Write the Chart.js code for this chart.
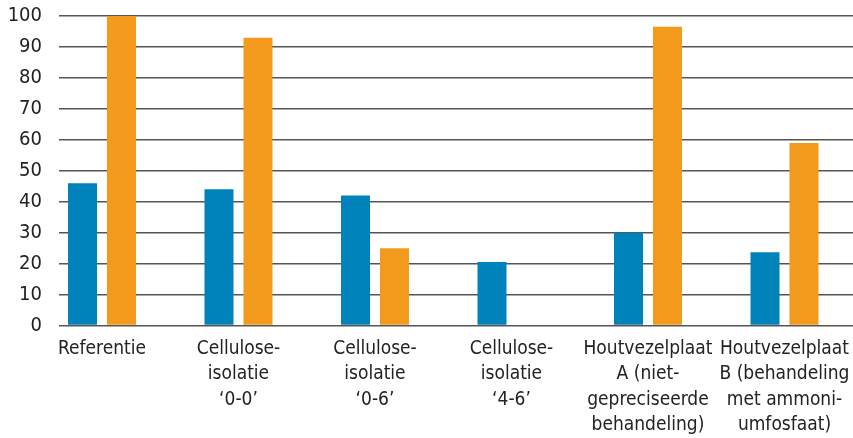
<!DOCTYPE html>
<html>
<head>
<meta charset="utf-8">
<script src="https://cdn.jsdelivr.net/npm/chart.js@4/dist/chart.umd.min.js"></script>
<style>
  html, body { margin: 0; padding: 0; background: #fff; }
  #wrap { width: 853px; height: 438px; position: relative; }
</style>
</head>
<body>
<div id="wrap"><canvas id="c"></canvas></div>
<script>
// Category labels (one array per category, one entry per line)
const categories = [
  ['Referentie'],
  ['Cellulose-', 'isolatie', '\u20180-0\u2019'],
  ['Cellulose-', 'isolatie', '\u20180-6\u2019'],
  ['Cellulose-', 'isolatie', '\u20184-6\u2019'],
  ['Houtvezelplaat', 'A (niet-', 'gepreciseerde', 'behandeling)'],
  ['Houtvezelplaat', 'B (behandeling', 'met ammoni-', 'umfosfaat)']
];

// Two series per category
const blueValues = [46, 44, 42, 20.5, 30, 23.7];
const orangeValues = [100, 93, 25, 0, 96.5, 59];

// Y axis ticks
const yMin = 0;
const yMax = 100;
const yStep = 10;

const FONT = "'DejaVu Sans Condensed', 'Liberation Sans', sans-serif";
const BLUE = '#0082ba';
const ORANGE = '#f39a1c';

const toPoints = vals => vals.map((v, i) => ({ x: i, y: v }));

new Chart(document.getElementById('c'), {
  type: 'bar',
  data: {
    datasets: [
      { data: toPoints(blueValues), backgroundColor: BLUE, borderWidth: 0 },
      { data: toPoints(orangeValues), backgroundColor: ORANGE, borderWidth: 0 }
    ]
  },
  options: {
    responsive: true,
    maintainAspectRatio: false,
    animation: false,
    events: [],
    categoryPercentage: 0.571,
    barPercentage: 0.744,
    layout: { padding: { top: 16, right: 0, left: 0, bottom: 0 } },
    plugins: {
      legend: { display: false },
      tooltip: { enabled: false }
    },
    scales: {
      x: {
        type: 'linear',
        min: -0.315,
        max: 5.502,
        offset: false,
        grid: { display: false, drawTicks: false },
        border: { display: false },
        afterBuildTicks: scale => {
          scale.ticks = categories.map((_, i) => ({ value: i }));
        },
        afterFit: scale => {
          scale.height = 112.5;
          scale.paddingLeft = 0;
          scale.paddingRight = 0;
        },
        ticks: {
          autoSkip: false,
          maxRotation: 0,
          minRotation: 0,
          padding: 11,
          color: '#222',
          font: { family: FONT, size: 19, lineHeight: 1.33 },
          callback: value => categories[value]
        }
      },
      y: {
        min: yMin,
        max: yMax,
        afterFit: scale => {
          scale.width = 59;
          scale.paddingTop = 0;
          scale.paddingBottom = 0;
        },
        grid: { color: '#555', lineWidth: 1.5, drawTicks: false },
        border: { display: false },
        ticks: {
          stepSize: yStep,
          autoSkip: false,
          padding: 17,
          color: '#222',
          font: { family: FONT, size: 20 }
        }
      }
    }
  }
});
</script>
</body>
</html>
